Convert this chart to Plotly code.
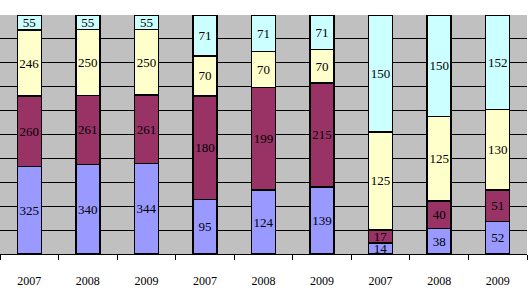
import plotly.graph_objects as go

years = ["2007", "2008", "2009", "2007", "2008", "2009", "2007", "2008", "2009"]
s1 = [325, 340, 344, 95, 124, 139, 14, 38, 52]
s2 = [260, 261, 261, 180, 199, 215, 17, 40, 51]
s3 = [246, 250, 250, 70, 70, 70, 125, 125, 130]
s4 = [55, 55, 55, 71, 71, 71, 150, 150, 152]

colors = ["#9999FF", "#993366", "#FFFFCC", "#CCFFFF"]
x = list(range(len(years)))

fig = go.Figure()
for vals, c in zip([s1, s2, s3, s4], colors):
    fig.add_trace(go.Bar(
        x=x, y=vals, text=[str(v) for v in vals],
        textposition="inside", insidetextanchor="middle", textangle=0,
        constraintext="none",
        textfont=dict(family="Liberation Serif", size=13, color="black"),
        marker=dict(color=c, line=dict(color="black", width=1.5)),
        width=0.41, showlegend=False, hoverinfo="skip",
    ))

fig.update_layout(
    barmode="stack", barnorm="percent",
    width=529, height=293,
    margin=dict(l=0, r=2, t=15, b=39),
    paper_bgcolor="white", plot_bgcolor="#C0C0C0",
    uniformtext=dict(mode="show", minsize=13),
)
fig.update_xaxes(
    range=[-0.5, 8.5], tickvals=x, ticktext=years,
    ticks="outside", ticklen=16, tickcolor="rgba(0,0,0,0)",
    tickfont=dict(family="Liberation Serif", size=12, color="black"),
    showgrid=False, zeroline=False,
    showline=True, linecolor="black", linewidth=1,
    minor=dict(tick0=-0.5, dtick=1, ticks="outside", ticklen=5, tickcolor="black", tickwidth=1),
)
fig.update_yaxes(
    range=[0, 100], dtick=10, showticklabels=False,
    showgrid=True, gridcolor="black", gridwidth=1, zeroline=False,
)
fig.write_html("out.html")
